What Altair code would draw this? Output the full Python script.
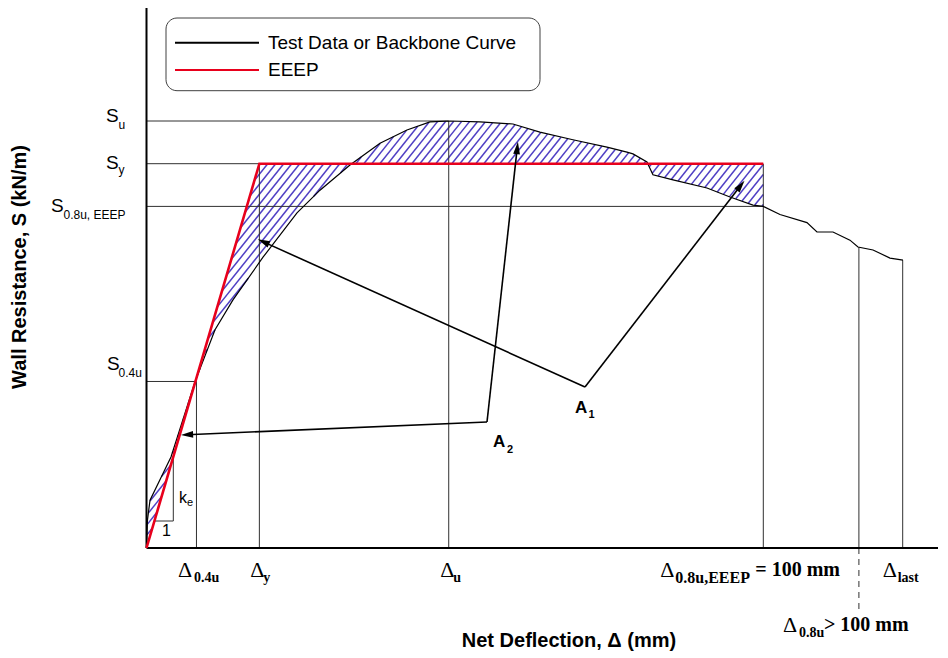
import altair as alt
import numpy as np
import pandas as pd

# ---------------- values ----------------
# backbone (test data) curve: net deflection (mm) and wall resistance (relative, S_u = 10)
deflection = [0, 0.16, 0.57, 3.97, 7.86, 11.11, 14.02, 18.89, 24.40, 28.13, 32.99, 37.86,
              42.23, 45.96, 49.2, 54.06, 59.41, 63.78, 69.13, 74.65, 77.9, 78.87,
              81.14, 82.11, 85.36, 90.87, 94.6, 98.33, 100.0, 102.7, 107.08, 108.7,
              111.3, 114.05, 115.35, 117.79, 120.54, 122.65]
resistance = [0, 0.66, 1.12, 2.13, 3.89, 5.11, 5.81, 6.81, 7.85, 8.38, 8.97, 9.48,
              9.79, 9.98, 10.0, 9.98, 9.93, 9.74, 9.56, 9.39, 9.27, 9.23,
              9.04, 8.74, 8.62, 8.43, 8.22, 8.03, 8.0, 7.81, 7.62, 7.4,
              7.4, 7.21, 7.05, 6.98, 6.79, 6.74]

# resistance levels (S labels)
S_subs = ["u", "y", "0.8u, EEEP", "0.4u"]
S_values = [10.0, 9.0, 8.0, 3.9]
# deflection levels (Delta labels)
D_subs = ["0.4u", "y", "u", "0.8u,EEEP", "0.8u", "last"]
D_values = [8.1, 18.3, 49.0, 100.0, 115.5, 122.6]
D_suffix = ["", "", "", "= 100 mm", "> 100 mm", ""]

legend_labels = ["Test Data or Backbone Curve", "EEEP"]
x_title = "Net Deflection, \u0394 (mm)"
y_title = "Wall Resistance, S (kN/m)"

# ---------------- frame / scales ----------------
W, H = 930, 644
ORX, ORY = 146.5, 548.0      # page position of the origin
KX, KY = 6.168, 42.7         # px per unit
X0 = -(ORX - 8) / KX
X1 = X0 + W / KX
Y1 = (ORY - 8) / KY
Y0 = Y1 - H / KY
xs = alt.Scale(domain=[X0, X1], nice=False, zero=False)
ys = alt.Scale(domain=[Y0, Y1], nice=False, zero=False)


def px_x(p):
    return (p - ORX) / KX


def px_y(p):
    return (ORY - p) / KY


def X(f="x"):
    return alt.X(f, type="quantitative", scale=xs, axis=None)


def Y(f="y"):
    return alt.Y(f, type="quantitative", scale=ys, axis=None)


Su, Sy, S08, S04 = S_values
D04, Dy, Du, D08E, D08, Dlast = D_values
eeep_x = [0, Dy, D08E]
eeep_y = [0, Sy, Sy]

# ---------------- hatch (between backbone and EEEP) ----------------
def hatch_segments(spacing=8.0, slope=1.25):
    xpx = np.arange(0, D08E * KX + 0.01, 0.25)
    xd = xpx / KX
    yc = np.interp(xd, deflection, resistance)
    ye = np.interp(xd, eeep_x, eeep_y)
    lo, hi = np.minimum(yc, ye), np.maximum(yc, ye)
    rows = []
    for c in np.arange(-10.6 * KY / slope, D08E * KX + spacing, spacing):
        yd = slope * (xpx - c) / KY
        idx = np.flatnonzero((yd >= lo) & (yd <= hi))
        if idx.size == 0:
            continue
        br = np.flatnonzero(np.diff(idx) > 1)
        starts = np.r_[idx[0], idx[br + 1]]
        ends = np.r_[idx[br], idx[-1]]
        for s, e in zip(starts, ends):
            if e - s < 1:
                continue
            rows.append(dict(x=xd[s], y=yd[s], x2=xd[e], y2=yd[e]))
    return pd.DataFrame(rows)


hatch_df = hatch_segments()
hatch = alt.Chart(hatch_df).mark_rule(color="#5040c4", strokeWidth=1.5).encode(
    x=X(), y=Y(), x2="x2", y2="y2")

# ---------------- reference lines ----------------
ref = pd.DataFrame([
    dict(x=0, y=Su, x2=Du, y2=Su),
    dict(x=0, y=Sy, x2=Dy, y2=Sy),
    dict(x=0, y=S08, x2=D08E, y2=S08),
    dict(x=0, y=S04, x2=D04, y2=S04),
    dict(x=D04, y=0, x2=D04, y2=S04),
    dict(x=Dy, y=0, x2=Dy, y2=Sy),
    dict(x=Du, y=0, x2=Du, y2=Su),
    dict(x=D08E, y=0, x2=D08E, y2=Sy),
    dict(x=D08, y=0, x2=D08, y2=float(np.interp(D08, deflection, resistance))),
    dict(x=Dlast, y=0, x2=Dlast, y2=resistance[-1]),
])
ref_layer = alt.Chart(ref).mark_rule(color="#303030", strokeWidth=1).encode(
    x=X(), y=Y(), x2="x2", y2="y2")

dash_df = pd.DataFrame([dict(x=D08, y=0, x2=D08, y2=px_y(610))])
dash_layer = alt.Chart(dash_df).mark_rule(color="#303030", strokeWidth=1,
                                          strokeDash=[6, 5]).encode(
    x=X(), y=Y(), x2="x2", y2="y2")

# ke triangle
ke_y = px_y(521)
slope_e = Sy / Dy
ke_x = px_x(173.3)
tri = pd.DataFrame([
    dict(x=ke_y / slope_e, y=ke_y, x2=ke_x, y2=ke_y),
    dict(x=ke_x, y=ke_y, x2=ke_x, y2=ke_x * slope_e),
])
tri_layer = alt.Chart(tri).mark_rule(color="#303030", strokeWidth=1).encode(
    x=X(), y=Y(), x2="x2", y2="y2")

# axes
axes_df = pd.DataFrame([
    dict(x=0, y=0, x2=0, y2=px_y(7)),
    dict(x=0, y=0, x2=X1, y2=0),
])
axes_layer = alt.Chart(axes_df).mark_rule(color="black", strokeWidth=2).encode(
    x=X(), y=Y(), x2="x2", y2="y2")

# ---------------- curves ----------------
curve_df = pd.DataFrame(dict(x=deflection, y=resistance, i=range(len(deflection))))
curve = alt.Chart(curve_df).mark_line(color="black", strokeWidth=1.2).encode(
    x=X(), y=Y(), order="i:Q")

eeep_df = pd.DataFrame(dict(x=eeep_x, y=eeep_y, i=range(3)))
eeep = alt.Chart(eeep_df).mark_line(color="#e8001c", strokeWidth=2.6).encode(
    x=X(), y=Y(), order="i:Q")

# ---------------- legend box ----------------
box_df = pd.DataFrame([dict(x=px_x(166), x2=px_x(540), y=px_y(18), y2=px_y(90.7))])
box = alt.Chart(box_df).mark_rect(fill="white", stroke="#404040", strokeWidth=1,
                                  cornerRadius=11).encode(
    x=X(), x2="x2", y=Y(), y2="y2")
leg_lines = pd.DataFrame([
    dict(x=px_x(175), x2=px_x(259), y=px_y(42.7), y2=px_y(42.7), c="black"),
    dict(x=px_x(175), x2=px_x(259), y=px_y(70), y2=px_y(70), c="#e8001c"),
])
leg_layer = alt.Chart(leg_lines).mark_rule(strokeWidth=2).encode(
    x=X(), x2="x2", y=Y(), y2="y2", color=alt.Color("c:N", scale=None))

# ---------------- arrows ----------------
A1 = (px_x(585), px_y(387))
A2 = (px_x(487), px_y(422))
arrows = [
    (A1, (px_x(257), px_y(239))),
    (A1, (px_x(745), px_y(180))),
    (A2, (px_x(180), px_y(435))),
    (A2, (px_x(518), px_y(141))),
]
shaft_rows, head_rows = [], []
for (bx, by), (tx, ty) in arrows:
    dxp, dyp = (tx - bx) * KX, (ty - by) * KY
    L = np.hypot(dxp, dyp)
    ux, uy = dxp / L, dyp / L
    back = 7.0
    shaft_rows.append(dict(x=bx, y=by, x2=tx - ux * back / KX, y2=ty - uy * back / KY))
    ang = float(np.degrees(np.arctan2(dxp, dyp))) % 360
    head_rows.append(dict(x=tx - ux * back / KX, y=ty - uy * back / KY, a=ang))
shafts = alt.Chart(pd.DataFrame(shaft_rows)).mark_rule(color="black", strokeWidth=1.6).encode(
    x=X(), y=Y(), x2="x2", y2="y2")
heads = alt.Chart(pd.DataFrame(head_rows)).mark_point(
    shape="M0,-1L0.55,1L-0.55,1Z", filled=True, color="black", opacity=1, size=150).encode(
    x=X(), y=Y(), angle=alt.Angle("a:Q", scale=None))

# ---------------- texts ----------------
sans, sansb, serif, serifb = [], [], [], []

# S labels
S_main_left = [106, 106, 51, 107]
S_main_dy = [-5.5, -1, 0, -17]
S_sub_left = [118.5, 118.5, 63.5, 118.5]
S_sub_dy = [4, 6, 9, -8]
for i, (sub, v) in enumerate(zip(S_subs, S_values)):
    yl = ORY - v * KY
    sans.append(dict(t="S", x=px_x(S_main_left[i]), y=px_y(yl + S_main_dy[i]), s=19))
    sans.append(dict(t=sub, x=px_x(S_sub_left[i]), y=px_y(yl + S_sub_dy[i]), s=12))

# Delta labels
D_main_dx = [-18.5, -9, -8.5, -103, -76, -20]
D_sub_dx = [-2.5, 4, 4.5, -88, -60, -5]
D_sub_size = [14, 14, 14, 16, 14, 14]
D_suf_dx = [0, 0, 0, -8, -35, 0]
D_dy = [21.5, 21.5, 21.5, 21.5, 77, 21.5]
for i, (sub, v) in enumerate(zip(D_subs, D_values)):
    xl = ORX + v * KX
    serif.append(dict(t="\u0394", x=px_x(xl + D_main_dx[i]), y=px_y(ORY + D_dy[i]), s=22))
    serifb.append(dict(t=sub, x=px_x(xl + D_sub_dx[i]), y=px_y(ORY + D_dy[i] + 8),
                       s=D_sub_size[i]))
    if D_suffix[i]:
        serifb.append(dict(t=D_suffix[i], x=px_x(xl + D_suf_dx[i]),
                           y=px_y(ORY + D_dy[i]), s=20))

# legend texts
sans.append(dict(t=legend_labels[0], x=px_x(268), y=px_y(43), s=19))
sans.append(dict(t=legend_labels[1], x=px_x(268), y=px_y(70), s=19))
# k_e and 1
sans.append(dict(t="k", x=px_x(179), y=px_y(498), s=16))
sans.append(dict(t="e", x=px_x(187), y=px_y(503), s=11))
sans.append(dict(t="1", x=px_x(162), y=px_y(531), s=16))
# A1, A2
sansb.append(dict(t="A", x=px_x(575), y=px_y(408), s=17))
sansb.append(dict(t="1", x=px_x(588.5), y=px_y(415), s=11))
sansb.append(dict(t="A", x=px_x(493), y=px_y(442), s=17))
sansb.append(dict(t="2", x=px_x(507), y=px_y(450), s=11))


def text_layer(rows, font, weight):
    return alt.Chart(pd.DataFrame(rows)).mark_text(
        font=font, fontWeight=weight, align="left", baseline="middle", color="black").encode(
        x=X(), y=Y(), text="t:N", size=alt.Size("s:Q", scale=None))


titles_df = pd.DataFrame([
    dict(t=x_title, x=px_x(569), y=px_y(641), a=0),
    dict(t=y_title, x=px_x(20), y=px_y(267), a=270),
])
titles = alt.Chart(titles_df).mark_text(
    font="Liberation Sans", fontWeight="bold", fontSize=20, align="center",
    baseline="middle", color="black").encode(
    x=X(), y=Y(), text="t:N", angle=alt.Angle("a:Q", scale=None))

chart = alt.layer(
    hatch, ref_layer, dash_layer, tri_layer, axes_layer, curve, eeep,
    box, leg_layer, shafts, heads,
    text_layer(sans, "Liberation Sans", "normal"),
    text_layer(sansb, "Liberation Sans", "bold"),
    text_layer(serif, "Liberation Serif", "normal"),
    text_layer(serifb, "Liberation Serif", "bold"),
    titles,
).properties(
    width=W, height=H, padding=0,
    autosize=alt.AutoSizeParams(type="none"),
    background="white",
).configure_view(stroke=None)

chart.save("out.html", embed_options={"renderer": "svg", "actions": False})
